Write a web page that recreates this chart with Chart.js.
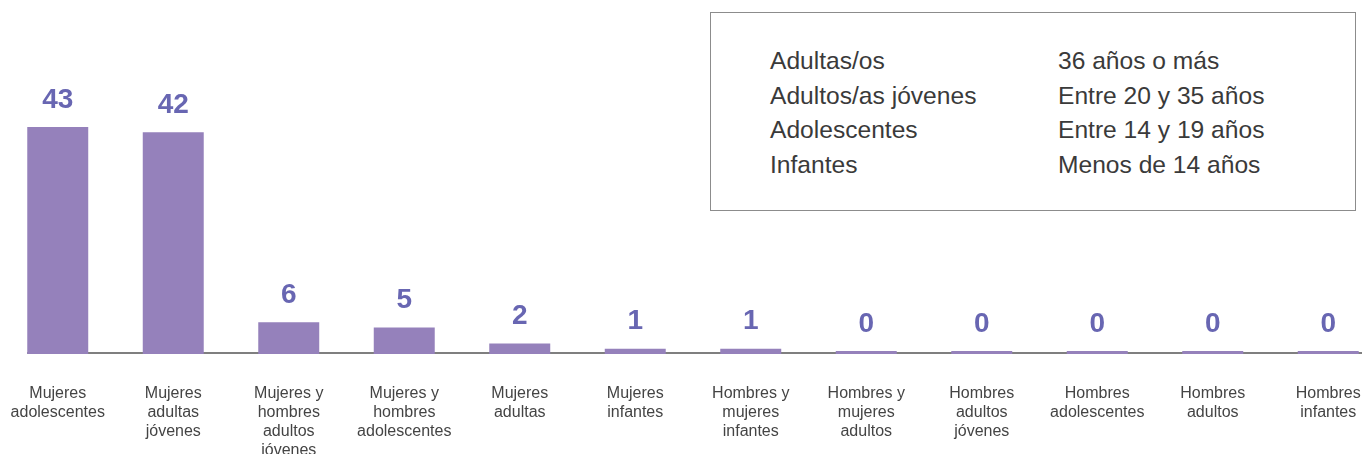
<!DOCTYPE html>
<html>
<head>
<meta charset="utf-8">
<script src="https://cdn.jsdelivr.net/npm/chart.js@4"></script>
<style>
  html, body { margin: 0; padding: 0; background: #fff; overflow: hidden; width: 1362px; height: 454px; }
  #wrap { position: absolute; left: 0; top: 0; width: 1386px; height: 454px; }
  #box {
    position: absolute; left: 710px; top: 12px; width: 644px; height: 197px;
    border: 1px solid #8c8c8c; background: #fff;
    font-family: "Liberation Sans", Arial, sans-serif; font-size: 24.6px; color: #3a3a3a;
  }
  .row { position: absolute; left: 0; width: 100%; height: 34px; line-height: 34px; white-space: nowrap; }
  .row .a { position: absolute; left: 59px; }
  .row .b { position: absolute; left: 347px; }
</style>
</head>
<body>
<div id="wrap"><canvas id="IDCHART"></canvas></div>
<div id="box"></div>
<script>
// categorias (eje x)
var categorias = [
  ["Mujeres", "adolescentes"],
  ["Mujeres", "adultas", "jóvenes"],
  ["Mujeres y", "hombres", "adultos", "jóvenes"],
  ["Mujeres y", "hombres", "adolescentes"],
  ["Mujeres", "adultas"],
  ["Mujeres", "infantes"],
  ["Hombres y", "mujeres", "infantes"],
  ["Hombres y", "mujeres", "adultos"],
  ["Hombres", "adultos", "jóvenes"],
  ["Hombres", "adolescentes"],
  ["Hombres", "adultos"],
  ["Hombres", "infantes"]
];

// valores de cada barra
var valores = [43, 42, 6, 5, 2, 1, 1, 0, 0, 0, 0, 0];

// cuadro de referencia de edades
var grupos = ["Adultas/os", "Adultos/as jóvenes", "Adolescentes", "Infantes"];
var rangos = ["36 años o más", "Entre 20 y 35 años", "Entre 14 y 19 años", "Menos de 14 años"];

var COLOR_BARRA = "#9581bb";
var COLOR_VALOR = "#6866b2";
var COLOR_EJE = "#7f7f7f";

//===================================== Cuadro de referencia
var box = document.getElementById('box');
for (var i = 0; i < grupos.length; i++) {
  var row = document.createElement('div');
  row.className = 'row';
  row.style.top = (31 + i * 34.5) + 'px';
  row.innerHTML = '<span class="a">' + grupos[i] + '</span><span class="b">' + rangos[i] + '</span>';
  box.appendChild(row);
}

//===================================== Plugins
// linea base del eje x, empieza en el borde de la primera barra
var ejePlugin = {
  id: 'ejeBase',
  beforeDatasetsDraw: function (chart) {
    var ctx = chart.ctx;
    var bars = chart.getDatasetMeta(0).data;
    var first = bars[0];
    var y = chart.scales.y.getPixelForValue(0);
    ctx.save();
    ctx.strokeStyle = COLOR_EJE;
    ctx.lineWidth = 2;
    ctx.beginPath();
    ctx.moveTo(first.x - first.width / 2, y - 1);
    ctx.lineTo(chart.width, y - 1);
    ctx.stroke();
    ctx.restore();
  }
};

// numeros encima de las barras
var valorPlugin = {
  id: 'valores',
  afterDatasetsDraw: function (chart) {
    var ctx = chart.ctx;
    var bars = chart.getDatasetMeta(0).data;
    ctx.save();
    ctx.fillStyle = COLOR_VALOR;
    ctx.font = 'bold 28px "Liberation Sans", Arial, sans-serif';
    ctx.textAlign = 'center';
    ctx.textBaseline = 'middle';
    for (var i = 0; i < bars.length; i++) {
      ctx.fillText(String(valores[i]), bars[i].x, bars[i].y - 27);
    }
    ctx.restore();
  }
};

new Chart(document.getElementById('IDCHART'), {
  type: 'bar',
  data: {
    labels: categorias,
    datasets: [{
      data: valores,
      backgroundColor: COLOR_BARRA,
      borderWidth: 0,
      minBarLength: 3,
      categoryPercentage: 1,
      barPercentage: 0.528
    }]
  },
  options: {
    responsive: true,
    maintainAspectRatio: false,
    animation: false,
    layout: { padding: { top: 90, left: 0, right: 0, bottom: 0 } },
    plugins: {
      legend: { display: false },
      tooltip: { enabled: false }
    },
    scales: {
      x: {
        grid: { display: false, drawTicks: false },
        border: { display: false },
        ticks: {
          color: '#444',
          padding: 30,
          autoSkip: false,
          maxRotation: 0,
          font: { family: '"Liberation Sans", Arial, sans-serif', size: 16, lineHeight: 1.19 }
        },
        afterFit: function (scale) {
          scale.height = 100;
          // sin relleno lateral por las etiquetas
          scale.paddingLeft = 0;
          scale.paddingRight = 0;
        }
      },
      y: {
        display: false,
        min: 0,
        max: 50
      }
    }
  },
  plugins: [ejePlugin, valorPlugin]
});
</script>
</body>
</html>
